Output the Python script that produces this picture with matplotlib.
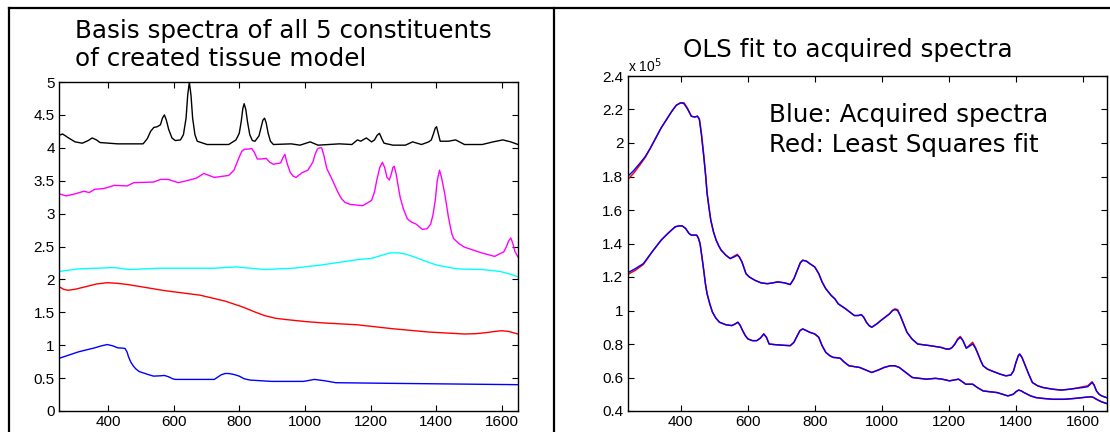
import matplotlib
matplotlib.use("Agg")
import matplotlib.pyplot as plt
from matplotlib.lines import Line2D
from matplotlib.ticker import FuncFormatter

# ---------------- Data (left panel: basis spectra) ----------------
black_x = [251, 262, 280, 300, 322, 340, 352, 365, 376, 430, 507, 512, 520, 530, 540, 550, 560,
           566, 572, 578, 585, 595, 605, 621, 630, 638, 643, 648, 653, 658, 665, 672, 702, 768,
           790, 800, 806, 811, 815, 820, 825, 832, 840, 848, 860, 866, 872, 877, 882, 888, 895,
           904, 958, 985, 1016, 1040, 1105, 1143, 1160, 1170, 1187, 1203, 1212, 1220, 1227,
           1234, 1241, 1268, 1306, 1328, 1355, 1377, 1385, 1392, 1397, 1401, 1406, 1412, 1437,
           1459, 1486, 1540, 1573, 1603, 1627, 1649]
black_y = [4.19, 4.21, 4.15, 4.09, 4.07, 4.11, 4.15, 4.12, 4.08, 4.06, 4.06, 4.09, 4.14, 4.25,
           4.31, 4.32, 4.35, 4.45, 4.50, 4.42, 4.28, 4.15, 4.11, 4.12, 4.20, 4.45, 4.80, 5.00,
           4.80, 4.45, 4.20, 4.10, 4.05, 4.05, 4.12, 4.22, 4.40, 4.60, 4.67, 4.58, 4.40, 4.20,
           4.11, 4.10, 4.18, 4.30, 4.42, 4.45, 4.38, 4.22, 4.10, 4.05, 4.06, 4.04, 4.09, 4.04,
           4.06, 4.05, 4.12, 4.10, 4.15, 4.09, 4.12, 4.19, 4.22, 4.14, 4.07, 4.04, 4.04, 4.09,
           4.05, 4.09, 4.12, 4.22, 4.30, 4.32, 4.22, 4.10, 4.10, 4.12, 4.05, 4.05, 4.09, 4.12,
           4.09, 4.05]

magenta_x = [251, 273, 300, 327, 343, 360, 387, 420, 458, 479, 539, 561, 583, 615, 648, 670, 692,
             724, 768, 784, 792, 800, 808, 817, 828, 838, 846, 855, 868, 882, 893, 904, 926, 933,
             939, 946, 955, 964, 973, 991, 1009, 1024, 1031, 1038, 1045, 1051, 1058, 1067, 1078,
             1089, 1100, 1111, 1122, 1138, 1176, 1203, 1212, 1219, 1228, 1236, 1243, 1250, 1257,
             1263, 1268, 1272, 1278, 1284, 1290, 1300, 1312, 1325, 1339, 1348, 1358, 1372, 1383,
             1390, 1397, 1403, 1410, 1416, 1426, 1437, 1447, 1453, 1470, 1486, 1540, 1578, 1606,
             1614, 1620, 1627, 1633, 1640, 1649]
magenta_y = [3.30, 3.27, 3.30, 3.34, 3.32, 3.37, 3.38, 3.43, 3.42, 3.47, 3.48, 3.52, 3.52, 3.47,
             3.51, 3.54, 3.61, 3.55, 3.58, 3.66, 3.76, 3.86, 3.95, 3.98, 3.98, 3.99, 3.93, 3.83,
             3.83, 3.84, 3.78, 3.75, 3.77, 3.85, 3.90, 3.76, 3.63, 3.57, 3.55, 3.62, 3.66, 3.78,
             3.90, 3.98, 4.00, 4.00, 3.88, 3.68, 3.57, 3.45, 3.33, 3.23, 3.17, 3.14, 3.12, 3.20,
             3.33, 3.51, 3.70, 3.78, 3.70, 3.55, 3.51, 3.60, 3.70, 3.72, 3.60, 3.42, 3.25, 3.07,
             2.92, 2.87, 2.84, 2.80, 2.76, 2.77, 2.84, 2.98, 3.20, 3.50, 3.66, 3.55, 3.30, 2.95,
             2.70, 2.62, 2.54, 2.49, 2.40, 2.35, 2.42, 2.50, 2.58, 2.63, 2.55, 2.42, 2.34]

cyan_x = [251, 311, 420, 463, 561, 724, 790, 877, 964, 1051, 1160, 1203, 1230, 1257, 1275, 1290,
          1310, 1334, 1365, 1400, 1430, 1465, 1540, 1595, 1625, 1649]
cyan_y = [2.12, 2.16, 2.18, 2.15, 2.17, 2.17, 2.19, 2.15, 2.17, 2.22, 2.30, 2.32, 2.36, 2.40,
          2.405, 2.40, 2.38, 2.34, 2.28, 2.22, 2.19, 2.16, 2.15, 2.12, 2.08, 2.04]

red_x = [251, 265, 278, 300, 333, 365, 398, 430, 463, 572, 681, 757, 811, 845, 877, 910, 942,
         1000, 1051, 1160, 1268, 1377, 1486, 1520, 1551, 1580, 1600, 1620, 1649]
red_y = [1.89, 1.85, 1.835, 1.85, 1.89, 1.93, 1.95, 1.94, 1.92, 1.83, 1.76, 1.67, 1.58, 1.51,
         1.45, 1.41, 1.39, 1.36, 1.34, 1.31, 1.25, 1.20, 1.17, 1.175, 1.19, 1.21, 1.22, 1.21,
         1.17]

blue_x = [251, 311, 360, 380, 398, 415, 430, 445, 452, 458, 463, 470, 478, 485, 495, 507, 522,
          539, 560, 572, 585, 597, 605, 724, 733, 745, 757, 768, 784, 800, 815, 833, 898, 996,
          1029, 1060, 1094, 1268, 1649]
blue_y = [0.80, 0.90, 0.96, 0.99, 1.01, 0.99, 0.96, 0.955, 0.95, 0.90, 0.82, 0.74, 0.68, 0.64,
          0.60, 0.58, 0.555, 0.53, 0.535, 0.54, 0.52, 0.49, 0.48, 0.48, 0.51, 0.55, 0.57, 0.57,
          0.555, 0.53, 0.49, 0.47, 0.45, 0.45, 0.48, 0.46, 0.43, 0.42, 0.40]

# ---------------- Data (right panel: OLS fit, values in units of 1e5) ----------------
upper_x = [242, 260, 279, 295, 310, 326, 342, 358, 374, 387, 400, 410, 420, 432, 442, 450, 456,
           462, 469, 475, 479, 485, 490, 498, 506, 514, 521, 535, 548, 560, 569, 575, 583, 595,
           605, 622, 640, 659, 675, 690, 710, 727, 738, 748, 757, 764, 775, 785, 800, 812, 822,
           833, 849, 860, 870, 892, 905, 918, 930, 939, 946, 954, 962, 970, 985, 997, 1010,
           1023, 1032, 1039, 1047, 1055, 1065, 1075, 1090, 1107, 1125, 1144, 1160, 1176, 1192,
           1202, 1210, 1218, 1226, 1234, 1242, 1252, 1260, 1271, 1279, 1287, 1295, 1302, 1315,
           1327, 1340, 1353, 1370, 1385, 1393, 1400, 1407, 1411, 1418, 1428, 1438, 1449, 1465,
           1481, 1510, 1535, 1560, 1577, 1600, 1614, 1622, 1627, 1633, 1640, 1648, 1656, 1670]
upper_blue = [1.80, 1.835, 1.88, 1.92, 1.97, 2.03, 2.09, 2.14, 2.19, 2.225, 2.24, 2.235, 2.205,
              2.16, 2.155, 2.16, 2.14, 2.05, 1.92, 1.80, 1.70, 1.61, 1.54, 1.47, 1.42, 1.385,
              1.36, 1.33, 1.31, 1.32, 1.33, 1.32, 1.29, 1.22, 1.20, 1.18, 1.165, 1.16, 1.165,
              1.17, 1.165, 1.155, 1.19, 1.24, 1.285, 1.30, 1.295, 1.28, 1.26, 1.22, 1.17, 1.13,
              1.09, 1.07, 1.04, 1.01, 0.99, 0.97, 0.97, 0.975, 0.96, 0.93, 0.91, 0.90, 0.92, 0.94,
              0.96, 0.98, 1.00, 1.005, 1.00, 0.97, 0.92, 0.87, 0.83, 0.80, 0.795, 0.79, 0.785,
              0.78, 0.77, 0.77, 0.78, 0.80, 0.825, 0.84, 0.82, 0.775, 0.785, 0.80, 0.775, 0.74,
              0.70, 0.67, 0.65, 0.64, 0.63, 0.62, 0.61, 0.615, 0.64, 0.69, 0.73, 0.74, 0.72, 0.67,
              0.62, 0.57, 0.55, 0.54, 0.53, 0.525, 0.53, 0.535, 0.54, 0.545, 0.56, 0.57, 0.555,
              0.52, 0.50, 0.49, 0.48]
upper_red = [1.78, 1.82, 1.87, 1.915, 1.97, 2.03, 2.09, 2.14, 2.19, 2.225, 2.24, 2.24, 2.21,
             2.16, 2.155, 2.16, 2.145, 2.06, 1.93, 1.80, 1.70, 1.61, 1.54, 1.47, 1.42, 1.385,
             1.36, 1.33, 1.31, 1.325, 1.335, 1.32, 1.29, 1.22, 1.20, 1.18, 1.165, 1.16, 1.165,
             1.172, 1.165, 1.155, 1.19, 1.24, 1.285, 1.30, 1.295, 1.28, 1.26, 1.22, 1.17, 1.13,
             1.09, 1.07, 1.04, 1.01, 0.99, 0.97, 0.97, 0.975, 0.96, 0.93, 0.91, 0.90, 0.92, 0.94,
             0.96, 0.98, 1.00, 1.01, 1.005, 0.97, 0.92, 0.87, 0.83, 0.80, 0.795, 0.79, 0.785,
             0.78, 0.77, 0.77, 0.78, 0.80, 0.83, 0.845, 0.82, 0.775, 0.79, 0.81, 0.78, 0.74,
             0.70, 0.67, 0.65, 0.64, 0.63, 0.62, 0.61, 0.615, 0.64, 0.69, 0.73, 0.74, 0.72, 0.67,
             0.62, 0.57, 0.55, 0.54, 0.53, 0.525, 0.53, 0.535, 0.545, 0.55, 0.565, 0.575, 0.555,
             0.52, 0.50, 0.49, 0.48]

lower_x = [242, 265, 289, 315, 342, 362, 384, 395, 405, 415, 425, 432, 440, 448, 453, 458, 463,
           469, 474, 479, 487, 495, 505, 516, 535, 553, 563, 571, 578, 585, 593, 601, 614, 627,
           638, 648, 656, 664, 677, 690, 710, 727, 738, 748, 756, 764, 775, 785, 800, 812, 822,
           833, 845, 855, 866, 876, 889, 902, 918, 934, 952, 970, 990, 1007, 1025, 1039, 1052,
           1065, 1078, 1091, 1112, 1133, 1160, 1180, 1202, 1215, 1229, 1240, 1250, 1262, 1271,
           1285, 1302, 1322, 1344, 1360, 1376, 1392, 1400, 1408, 1416, 1424, 1434, 1444, 1460,
           1481, 1510, 1545, 1575, 1598, 1612, 1625, 1632, 1640, 1655, 1670]
lower_blue = [1.225, 1.25, 1.28, 1.35, 1.42, 1.46, 1.50, 1.505, 1.505, 1.49, 1.46, 1.45, 1.45,
              1.45, 1.43, 1.40, 1.33, 1.24, 1.16, 1.10, 1.04, 0.99, 0.955, 0.93, 0.915, 0.91,
              0.92, 0.93, 0.91, 0.88, 0.85, 0.83, 0.82, 0.82, 0.835, 0.86, 0.84, 0.80, 0.797,
              0.795, 0.792, 0.79, 0.81, 0.85, 0.88, 0.89, 0.88, 0.87, 0.86, 0.84, 0.79, 0.75,
              0.73, 0.72, 0.718, 0.715, 0.69, 0.67, 0.665, 0.66, 0.645, 0.63, 0.645, 0.66, 0.67,
              0.67, 0.66, 0.64, 0.62, 0.60, 0.595, 0.59, 0.595, 0.59, 0.58, 0.585, 0.59, 0.575,
              0.56, 0.56, 0.56, 0.54, 0.52, 0.515, 0.51, 0.50, 0.49, 0.50, 0.515, 0.525, 0.52,
              0.51, 0.50, 0.49, 0.48, 0.475, 0.47, 0.47, 0.475, 0.48, 0.483, 0.485, 0.48, 0.47,
              0.455, 0.445]
lower_red = [1.215, 1.24, 1.275, 1.35, 1.42, 1.46, 1.50, 1.505, 1.505, 1.49, 1.46, 1.45, 1.45,
             1.45, 1.435, 1.40, 1.33, 1.24, 1.16, 1.10, 1.04, 0.99, 0.955, 0.93, 0.915, 0.91,
             0.92, 0.93, 0.91, 0.88, 0.85, 0.83, 0.82, 0.82, 0.835, 0.86, 0.84, 0.80, 0.797,
             0.795, 0.792, 0.79, 0.81, 0.85, 0.88, 0.89, 0.88, 0.87, 0.86, 0.84, 0.79, 0.75,
             0.73, 0.72, 0.718, 0.715, 0.69, 0.67, 0.665, 0.66, 0.645, 0.63, 0.645, 0.66, 0.67,
             0.67, 0.66, 0.64, 0.62, 0.60, 0.595, 0.59, 0.595, 0.59, 0.58, 0.585, 0.59, 0.575,
             0.56, 0.56, 0.56, 0.54, 0.52, 0.515, 0.51, 0.50, 0.49, 0.50, 0.515, 0.525, 0.52,
             0.51, 0.50, 0.49, 0.48, 0.475, 0.47, 0.47, 0.475, 0.48, 0.483, 0.485, 0.48, 0.47,
             0.455, 0.445]

x_ticks = [400, 600, 800, 1000, 1200, 1400, 1600]
left_yticks = [0, 0.5, 1, 1.5, 2, 2.5, 3, 3.5, 4, 4.5, 5]
right_yticks = [0.4, 0.6, 0.8, 1, 1.2, 1.4, 1.6, 1.8, 2, 2.2, 2.4]

left_title = "Basis spectra of all 5 constituents\nof created tissue model"
right_title = "OLS fit to acquired spectra"
note_text = "Blue: Acquired spectra\nRed: Least Squares fit"

# ---------------- Figure ----------------
W, H = 1110, 432
fig = plt.figure(figsize=(W / 100, H / 100), dpi=100)
fig.patch.set_facecolor("white")

tick_font = "Liberation Sans"
title_font = "DejaVu Sans"
title_size = 17.7


def style_axes(ax):
    ax.set_xticks(x_ticks)
    ax.tick_params(direction="in", top=True, right=True, length=4, width=0.8,
                   labelsize=11, pad=3, colors="black")
    for lbl in ax.get_xticklabels() + ax.get_yticklabels():
        lbl.set_fontfamily(tick_font)
    for s in ax.spines.values():
        s.set_linewidth(1.0)
        s.set_color("black")
    ax.yaxis.set_major_formatter(FuncFormatter(lambda v, p: "%g" % round(v, 3)))


# Left panel
axL = fig.add_axes([59 / W, (H - 411) / H, (518 - 59) / W, (411 - 82) / H])
axL.plot(black_x, black_y, color="black", lw=1.0)
axL.plot(magenta_x, magenta_y, color="#ff00ff", lw=1.0)
axL.plot(cyan_x, cyan_y, color="#00ffff", lw=1.0)
axL.plot(red_x, red_y, color="#ff0000", lw=1.0)
axL.plot(blue_x, blue_y, color="#0000ff", lw=1.0)
axL.set_xlim(251, 1649)
axL.set_ylim(0, 5)
axL.set_yticks(left_yticks)
style_axes(axL)

# Right panel
axR = fig.add_axes([627.6 / W, (H - 411) / H, (1106.5 - 627.6) / W, (411 - 76) / H])
axR.plot(upper_x, upper_red, color="#ff0000", lw=1.1)
axR.plot(upper_x, upper_blue, color="#0000ff", lw=1.0)
axR.plot(lower_x, lower_red, color="#ff0000", lw=1.1)
axR.plot(lower_x, lower_blue, color="#0000ff", lw=1.0)
axR.set_xlim(242, 1670)
axR.set_ylim(0.4, 2.4)
axR.set_yticks(right_yticks)
style_axes(axR)
axR.text(0.0, 1.004, r"x 10$^{5}$", transform=axR.transAxes, ha="left", va="bottom",
         fontsize=10, family=tick_font)

# Titles and annotation
fig.text(75 / W, 1 - 19 / H, left_title, ha="left", va="top", fontsize=title_size,
         family=title_font, linespacing=1.2)
fig.text(848 / W, 1 - 50 / H, right_title, ha="center", va="center", fontsize=title_size,
         family=title_font)
fig.text(769 / W, 1 - 103 / H, note_text, ha="left", va="top", fontsize=title_size,
         family=title_font, linespacing=1.3)

# Frame lines
lw_frame = 1.6
fig.add_artist(Line2D([9 / W, 1.0], [1 - 8 / H, 1 - 8 / H], transform=fig.transFigure,
                      color="black", lw=lw_frame))
fig.add_artist(Line2D([9 / W, 9 / W], [0, 1 - 8 / H], transform=fig.transFigure,
                      color="black", lw=lw_frame))
fig.add_artist(Line2D([554 / W, 554 / W], [0, 1 - 8 / H], transform=fig.transFigure,
                      color="black", lw=lw_frame))

fig.savefig("out.png", dpi=100, facecolor="white")
